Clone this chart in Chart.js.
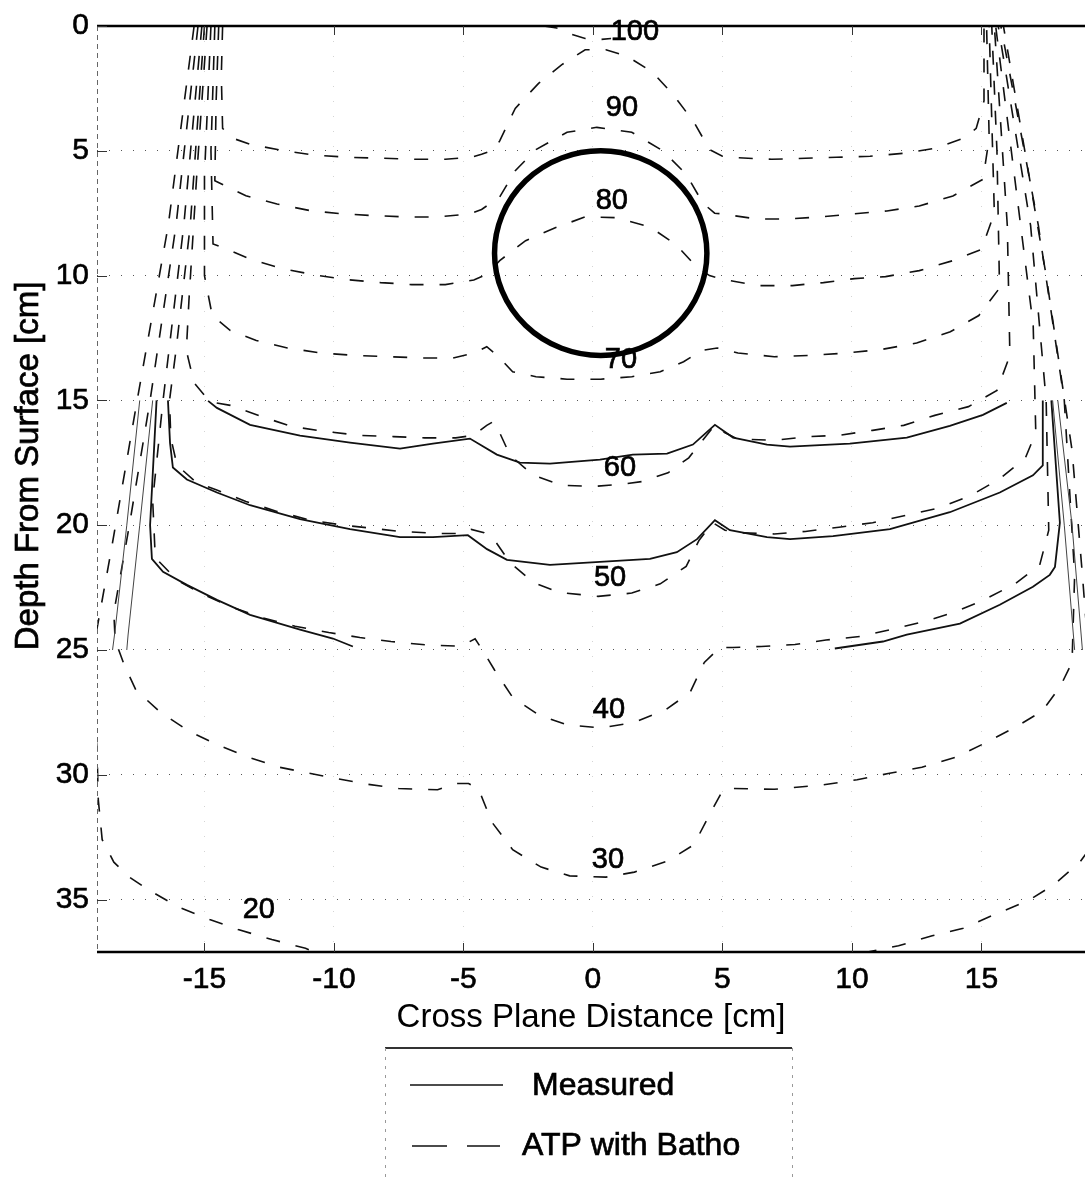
<!DOCTYPE html>
<html>
<head>
<meta charset="utf-8">
<title>Isodose lines - Measured vs ATP with Batho</title>
<script src="https://cdn.jsdelivr.net/npm/chart.js@4.4.1/dist/chart.umd.min.js"></script>
<style>
  body { margin: 0; background: #fff; }
  canvas { display: block; }
</style>
</head>
<body>
<canvas id="myChart" width="1085" height="1182"></canvas>
<script>
// axis ticks
const xTicks = [-15, -10, -5, 0, 5, 10, 15];
const yTicks = [0, 5, 10, 15, 20, 25, 30, 35];

// ATP with Batho isodose lines, points are [cross plane cm, depth cm]
const atp100 = [[-14.3,0],[-14.35,2],[-14.3,4.1],[-13.9,4.5],[-13.2,4.75],[-11.9,5.0],[-10.7,5.18],[-9.4,5.26],[-8.1,5.3],[-6.9,5.34],[-5.7,5.34],[-4.7,5.26],[-4.3,5.14],[-3.8,4.95],[-3.6,4.6],[-3.0,3.3],[-2.1,2.3],[-1.2,1.55],[-0.3,0.95],[0.5,0.95],[1.3,1.2],[2.3,1.85],[3.1,2.75],[3.9,3.85],[4.5,4.95],[5.0,5.22],[5.6,5.28],[6.9,5.34],[8.2,5.3],[9.4,5.26],[10.7,5.22],[12.0,5.1],[13.2,4.9],[14.3,4.5],[14.8,4.1],[15.1,3.0],[15.1,0]];
const atp100top = [[-1.9,0],[-1.4,0.08],[-1.0,0.28],[-0.3,0.5],[0.2,0.55],[0.7,0.5]];
const atp90 = [[-14.45,0],[-14.55,3.0],[-14.6,6.2],[-13.4,6.8],[-12.2,7.13],[-10.9,7.4],[-9.65,7.53],[-8.4,7.6],[-7.2,7.65],[-6.0,7.65],[-4.75,7.53],[-4.3,7.35],[-3.6,6.85],[-3.0,5.8],[-2.2,4.95],[-1.0,4.26],[0.15,4.06],[1.5,4.26],[2.7,5.0],[3.6,5.94],[4.25,7.1],[4.7,7.5],[5.0,7.53],[6.3,7.73],[7.5,7.73],[8.8,7.65],[10.0,7.53],[11.35,7.41],[12.6,7.21],[13.9,6.81],[15.06,6.14],[15.3,4.5],[15.2,0]];
const atp80 = [[-14.6,0],[-14.75,5],[-14.67,8.73],[-14.0,9.0],[-13.2,9.35],[-12.0,9.72],[-10.7,9.98],[-9.5,10.16],[-8.2,10.28],[-7.0,10.36],[-5.7,10.36],[-4.6,10.18],[-4.1,9.95],[-3.6,9.4],[-2.6,8.6],[-1.5,8.1],[-0.3,7.65],[0.9,7.68],[2.2,8.05],[3.2,8.75],[4.0,9.65],[4.5,10.0],[5.0,10.15],[6.4,10.4],[7.7,10.4],[8.9,10.28],[10.1,10.12],[11.3,10.04],[12.6,9.8],[13.9,9.4],[15.0,8.95],[15.5,7.5],[15.3,0]];
const atp70 = [[-14.75,0],[-15.0,6],[-15.0,10],[-14.7,11.6],[-14.0,12.2],[-13.0,12.6],[-11.8,12.9],[-10.5,13.1],[-9.2,13.2],[-7.9,13.25],[-6.6,13.3],[-5.4,13.3],[-4.6,13.1],[-4.1,12.85],[-3.7,13.2],[-3.1,13.85],[-2.2,14.05],[-1.0,14.15],[0.3,14.15],[1.5,14.05],[2.6,13.85],[3.5,13.45],[4.2,13.0],[4.8,12.9],[5.6,13.1],[7.0,13.25],[8.4,13.2],[9.8,13.1],[11.2,12.95],[12.5,12.7],[13.8,12.25],[14.9,11.6],[15.7,10.5],[15.6,5],[15.4,0]];
const atp60 = [[-14.9,0],[-15.3,6],[-15.6,11],[-15.7,13],[-15.4,14.3],[-14.8,15.05],[-14.0,15.2],[-12.8,15.65],[-11.6,16.05],[-10.3,16.25],[-9.0,16.4],[-7.7,16.45],[-6.5,16.5],[-5.3,16.5],[-4.6,16.4],[-4.1,16.0],[-3.85,15.85],[-3.6,16.3],[-3.2,17.2],[-2.3,18.0],[-1.2,18.4],[0.0,18.45],[1.2,18.35],[1.9,18.25],[2.9,17.9],[3.7,17.3],[4.0,16.9],[4.7,16.0],[5.1,16.3],[5.6,16.55],[7.0,16.6],[8.3,16.45],[9.5,16.4],[10.8,16.2],[12.0,16.0],[13.2,15.6],[14.5,15.25],[15.6,14.6],[16.1,13.2],[16.0,8],[15.5,0]];
const atp50 = [[-15.0,0],[-15.55,8],[-16.1,13],[-16.35,15],[-16.3,16.5],[-16.06,17.6],[-15.3,18.3],[-14.5,18.6],[-13.4,19.05],[-12.2,19.45],[-10.9,19.8],[-9.65,20.0],[-8.3,20.15],[-7.45,20.25],[-6.0,20.33],[-5.0,20.33],[-4.7,20.17],[-4.2,20.3],[-3.8,20.6],[-3.2,21.5],[-2.3,22.3],[-1.3,22.7],[0.2,22.85],[1.5,22.72],[2.6,22.35],[3.6,21.65],[4.1,20.6],[4.63,19.9],[5.1,20.2],[5.6,20.3],[7.0,20.35],[8.2,20.25],[9.5,20.08],[10.8,19.9],[12.1,19.6],[13.4,19.3],[14.6,18.8],[15.7,18.15],[16.7,17.3],[17.1,16.3],[17.0,12],[15.55,0]];
const atp40 = [[-15.1,0],[-15.8,8],[-16.6,15],[-17.0,19],[-16.9,21.3],[-16.06,22.2],[-15.0,22.8],[-13.9,23.3],[-12.8,23.7],[-11.5,24.05],[-10.2,24.3],[-9.0,24.5],[-7.8,24.66],[-6.4,24.8],[-5.1,24.85],[-4.55,24.55],[-4.3,24.95],[-3.8,25.8],[-3.1,26.9],[-2.1,27.6],[-1.0,28.0],[0.3,28.12],[1.6,27.9],[2.8,27.4],[3.75,26.7],[4.3,25.5],[4.9,24.9],[5.4,24.9],[6.5,24.86],[7.8,24.78],[9.0,24.6],[10.3,24.46],[11.5,24.18],[12.8,23.86],[14.0,23.47],[15.1,22.99],[16.3,22.35],[17.25,21.6],[17.6,20.2],[17.5,15],[16.9,8],[15.65,0]];
const atp30 = [[-15.25,0],[-16.1,8],[-17.1,15],[-17.9,20],[-18.5,23.5],[-18.45,24.6],[-18.1,25.6],[-17.65,26.6],[-16.7,27.5],[-15.6,28.25],[-14.5,28.8],[-13.3,29.3],[-12.1,29.7],[-10.9,29.95],[-9.9,30.15],[-8.7,30.38],[-7.5,30.55],[-6.0,30.6],[-5.3,30.35],[-4.8,30.35],[-4.4,30.6],[-4.25,31.0],[-3.9,31.9],[-3.1,33.0],[-2.0,33.7],[-0.9,34.05],[0.5,34.1],[1.6,33.9],[2.9,33.45],[3.9,32.8],[4.5,31.6],[5.0,30.65],[5.4,30.55],[7.0,30.58],[8.9,30.4],[10.2,30.2],[11.4,29.95],[12.7,29.7],[14.0,29.3],[15.1,28.75],[16.3,28.1],[17.35,27.45],[18.05,26.45],[18.5,25.5],[18.6,22],[18.2,15],[17.2,8],[15.75,0]];
const atp20 = [[-15.4,0],[-16.4,8],[-17.6,15],[-18.6,21],[-19.3,25],[-19.25,27.5],[-19.15,29],[-19.1,31],[-18.95,32.6],[-18.5,33.5],[-17.9,34.1],[-17.1,34.65],[-16.0,35.3],[-14.8,35.8],[-13.7,36.2],[-12.4,36.6],[-11.1,36.95],[-10.3,37.3],[10.0,37.3],[10.6,37.1],[11.8,36.85],[13.1,36.45],[14.3,36.15],[15.5,35.6],[16.8,35.05],[17.8,34.4],[18.8,33.5],[19.5,32.5],[19.5,28],[19.2,26],[18.9,22],[18.5,17],[17.5,10],[15.85,0]];

// measured isodose lines (measured between 15 and 25 cm depth)
const meas60 = [[-14.86,15.02],[-14.52,15.3],[-13.24,15.98],[-11.31,16.41],[-9.38,16.69],[-7.45,16.93],[-6.18,16.73],[-4.75,16.53],[-3.71,17.17],[-2.82,17.49],[-1.66,17.53],[0.27,17.37],[1.54,17.17],[2.86,17.13],[3.86,16.77],[4.71,15.98],[5.41,16.49],[6.72,16.77],[7.61,16.85],[9.92,16.73],[12.12,16.49],[13.78,16.02],[15.06,15.58],[15.98,15.1]];
const meas50 = [[-16.41,15.0],[-16.33,16.7],[-16.22,17.69],[-15.68,18.17],[-14.52,18.69],[-13.24,19.2],[-11.31,19.76],[-9.38,20.16],[-7.45,20.48],[-6.18,20.48],[-4.83,20.4],[-4.09,20.96],[-3.32,21.39],[-1.66,21.59],[0.27,21.47],[2.2,21.35],[3.24,21.08],[4.02,20.56],[4.71,19.8],[5.29,20.2],[6.72,20.48],[7.61,20.56],[9.27,20.44],[11.47,20.16],[13.78,19.48],[15.71,18.69],[16.99,18.0],[17.37,17.6],[17.37,16.3],[17.37,15.0]];
const meas40L = [[-16.85,15.0],[-17.1,20.0],[-17.03,21.35],[-16.6,21.87],[-15.68,22.39],[-14.52,22.99],[-13.24,23.59],[-11.31,24.18],[-10.04,24.54],[-9.27,24.86]];
const meas40R = [[9.34,24.94],[11.2,24.66],[12.12,24.38],[14.17,23.94],[15.71,23.19],[16.99,22.47],[17.64,21.99],[17.84,21.67],[18.03,19.9],[17.7,15.0]];
const meas30L = [[-17.0,15.0],[-17.5,20],[-17.95,24.4],[-18.0,25.0]];
const meas20L = [[-17.5,15.0],[-18.0,20],[-18.45,24.2],[-18.55,25.0]];
const meas30R = [[17.75,15],[18.2,20],[18.6,25]];
const meas20R = [[17.95,15],[18.5,20],[18.9,25]];

// isodose value labels, placed at [cm, depth]
const labelText = ['100', '90', '80', '70', '60', '50', '40', '30', '20'];
const labelX = [1.62, 1.12, 0.73, 1.08, 1.04, 0.66, 0.62, 0.58, -12.9];
const labelY = [0.24, 3.3, 7.0, 13.4, 17.7, 22.1, 27.4, 33.4, 35.4];

// inhomogeneity outline
const circleCenter = [0.3, 9.1];
const circleRadius = 4.1;

const legendLabels = ['Measured', 'ATP with Batho'];
const yTitle = 'Depth From Surface [cm]';

const FONT = '"Liberation Sans", Arial, Helvetica, sans-serif';
Chart.defaults.font.family = FONT;
Chart.defaults.color = '#000';

const toXY = pts => pts.map(p => ({ x: p[0], y: p[1] }));

const measLines = [meas60, meas50, meas40L, meas40R, meas30L, meas20L, meas30R, meas20R];
const atpLines = [atp100, atp100top, atp90, atp80, atp70, atp60, atp50, atp40, atp30, atp20];

const datasets = [];
measLines.forEach((pts, i) => {
  datasets.push({
    label: legendLabels[0],
    data: toXY(pts),
    borderColor: i < 4 ? '#111' : '#444',
    borderWidth: i < 4 ? 1.8 : 1,
  });
});
atpLines.forEach(pts => {
  datasets.push({
    label: legendLabels[1],
    data: toXY(pts),
    borderColor: '#111',
    borderWidth: 1.6,
    borderDash: [14, 16],
  });
});
datasets.forEach(d => {
  d.showLine = true;
  d.pointRadius = 0;
  d.fill = false;
  d.tension = 0;
  d.clip = 0;
});

// heavier text, like the scanned original
function boldText(ctx, t, x, y) {
  ctx.lineWidth = 0.7;
  ctx.strokeStyle = '#000';
  ctx.strokeText(t, x, y);
  ctx.fillText(t, x, y);
}

const whiteBg = {
  id: 'whiteBg',
  beforeDraw(chart) {
    const ctx = chart.ctx;
    ctx.save();
    ctx.fillStyle = '#fff';
    ctx.fillRect(0, 0, chart.width, chart.height);
    ctx.restore();
  }
};

// circle, contour labels, axis frame and inward ticks
const extras = {
  id: 'extras',
  afterDatasetsDraw(chart) {
    const ctx = chart.ctx;
    const xs = chart.scales.x, ys = chart.scales.y;
    const a = chart.chartArea;
    ctx.save();

    // circle
    const cx = xs.getPixelForValue(circleCenter[0]);
    const cy = ys.getPixelForValue(circleCenter[1]);
    const rx = Math.abs(xs.getPixelForValue(circleCenter[0] + circleRadius) - cx);
    const ry = Math.abs(ys.getPixelForValue(circleCenter[1] + circleRadius) - cy);
    ctx.beginPath();
    ctx.ellipse(cx, cy, rx, ry, 0, 0, Math.PI * 2);
    ctx.lineWidth = 5.5;
    ctx.strokeStyle = '#000';
    ctx.stroke();

    // contour labels
    ctx.font = '29px ' + FONT;
    ctx.fillStyle = '#000';
    ctx.textAlign = 'center';
    ctx.textBaseline = 'middle';
    labelText.forEach((t, i) => {
      boldText(ctx, t, xs.getPixelForValue(labelX[i]), ys.getPixelForValue(labelY[i]));
    });

    // frame
    ctx.strokeStyle = '#000';
    ctx.lineWidth = 2.5;
    ctx.beginPath();
    ctx.moveTo(a.left, a.top); ctx.lineTo(a.right, a.top);
    ctx.moveTo(a.left, a.bottom); ctx.lineTo(a.right, a.bottom);
    ctx.stroke();
    ctx.lineWidth = 1;
    ctx.strokeStyle = '#666';
    ctx.setLineDash([5, 4]);
    ctx.beginPath();
    ctx.moveTo(a.left + 0.5, a.top); ctx.lineTo(a.left + 0.5, a.bottom);
    ctx.stroke();
    ctx.setLineDash([]);

    // inward ticks
    ctx.strokeStyle = '#333';
    ctx.beginPath();
    yTicks.forEach(v => {
      const py = Math.round(ys.getPixelForValue(v)) + 0.5;
      ctx.moveTo(a.left, py); ctx.lineTo(a.left + 10, py);
    });
    xTicks.forEach(v => {
      const px = Math.round(xs.getPixelForValue(v)) + 0.5;
      ctx.moveTo(px, a.bottom); ctx.lineTo(px, a.bottom - 9);
      ctx.moveTo(px, a.top); ctx.lineTo(px, a.top + 9);
    });
    ctx.stroke();

    // y axis title
    ctx.font = '33px ' + FONT;
    ctx.fillStyle = '#000';
    ctx.textAlign = 'center';
    ctx.textBaseline = 'middle';
    ctx.translate(29, 466);
    ctx.rotate(-Math.PI / 2);
    boldText(ctx, yTitle, 0, 0);
    ctx.restore();
  },
  afterDraw(chart) {
    // legend box under the axis title
    const ctx = chart.ctx;
    ctx.save();
    const L = 385, R = 792, T = 1048, B = chart.height;
    ctx.strokeStyle = '#333';
    ctx.lineWidth = 2;
    ctx.beginPath();
    ctx.moveTo(L, T); ctx.lineTo(R, T);
    ctx.stroke();
    ctx.strokeStyle = '#999';
    ctx.lineWidth = 1;
    ctx.setLineDash([3, 6]);
    ctx.beginPath();
    ctx.moveTo(L + 0.5, T); ctx.lineTo(L + 0.5, B);
    ctx.moveTo(R + 0.5, T); ctx.lineTo(R + 0.5, B);
    ctx.stroke();

    ctx.strokeStyle = '#111';
    ctx.lineWidth = 1.6;
    ctx.setLineDash([]);
    ctx.beginPath();
    ctx.moveTo(410, 1085); ctx.lineTo(503, 1085);
    ctx.stroke();
    ctx.setLineDash([35, 20]);
    ctx.beginPath();
    ctx.moveTo(412, 1146); ctx.lineTo(500, 1146);
    ctx.stroke();
    ctx.setLineDash([]);

    ctx.font = '32px ' + FONT;
    ctx.fillStyle = '#000';
    ctx.textAlign = 'left';
    ctx.textBaseline = 'middle';
    boldText(ctx, legendLabels[0], 532, 1086);
    boldText(ctx, legendLabels[1], 522, 1146);
    ctx.restore();
  }
};

const ctx = document.getElementById('myChart').getContext('2d');
const myChart = new Chart(ctx, {
  type: 'scatter',
  data: { datasets: datasets },
  options: {
    responsive: false,
    animation: false,
    devicePixelRatio: 1,
    layout: { padding: { top: 21, right: 0, left: 0, bottom: 142 } },
    plugins: {
      legend: { display: false },
      tooltip: { enabled: false },
    },
    scales: {
      x: {
        type: 'linear',
        min: -19.15,
        max: 19.0,
        afterBuildTicks: s => { s.ticks = xTicks.map(v => ({ value: v })); },
        afterFit: s => { s.height = 88; },
        ticks: { font: { size: 30 }, padding: 10, autoSkip: false, maxRotation: 0, color: '#000', textStrokeColor: '#000', textStrokeWidth: 0.6 },
        grid: { color: '#d4d4d4', lineWidth: 1, drawTicks: false },
        border: { display: false, dash: [1, 14] },
        title: {
          display: true,
          text: 'Cross Plane Distance [cm]',
          font: { size: 33 },
          color: '#000',
          padding: { top: 0, bottom: 2 },
        },
      },
      y: {
        type: 'linear',
        reverse: true,
        min: 0,
        max: 37.1,
        afterBuildTicks: s => { s.ticks = yTicks.map(v => ({ value: v })); },
        afterFit: s => { s.width = 97; },
        ticks: { font: { size: 30 }, padding: 8, color: '#000', textStrokeColor: '#000', textStrokeWidth: 0.6 },
        grid: { color: '#555', lineWidth: 1, drawTicks: false },
        border: { display: false, dash: [1, 11] },
        title: { display: false },
      },
    },
  },
  plugins: [whiteBg, extras],
});
</script>
</body>
</html>
